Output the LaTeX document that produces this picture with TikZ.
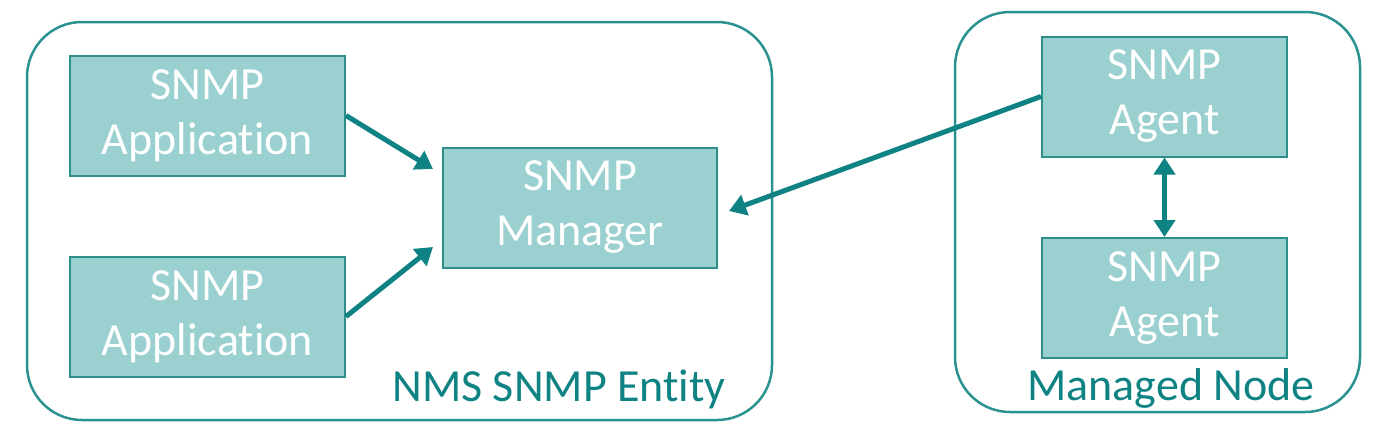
\documentclass[tikz,border=0pt]{standalone}
\usepackage{fontspec}
\setmainfont[Ligatures=NoCommon]{Carlito}
\usetikzlibrary{arrows.meta}
\definecolor{boxfill}{HTML}{9AD0CF}
\definecolor{boxline}{HTML}{2E8E8C}
\definecolor{teal1}{HTML}{0F8383}
\definecolor{outer}{HTML}{2A9291}
\tikzset{
  sbox/.style={draw=boxline, line width=2pt, fill=boxfill, minimum width=275pt, minimum height=120pt, inner sep=0pt,
    text=white, align=center, font=\fontsize{46}{55}\selectfont},
  abox/.style={sbox, minimum width=245pt},
  frame/.style={draw=outer, line width=2.5pt, rounded corners=55pt},
  conn/.style={draw=teal1, line width=5pt, -{Triangle[length=17pt,width=21pt]}},
  lbl/.style={text=teal1, font=\fontsize{46}{50}\selectfont, inner sep=0pt, anchor=base}
}
\begin{document}
\begin{tikzpicture}[x=1pt,y=-1pt]
\useasboundingbox (0,0) rectangle (1390,437);
\draw[frame] (27,22) rectangle (772,420);
\draw[frame] (955,12) rectangle (1360,412);
\node[sbox] (app1) at (207.5,115.5) {SNMP\\Application};
\node[sbox] (app2) at (207.5,316.5) {SNMP\\Application};
\node[sbox, minimum width=274pt] (mgr) at (580,207.5) {SNMP\\Manager};
\node[abox] (ag1) at (1164.5,96.5) {SNMP\\Agent};
\node[abox] (ag2) at (1164.5,298) {SNMP\\Agent};
\node[lbl] (nms) at (559,401) {NMS SNMP Entity};
\node[lbl] (mn) at (1171,400) {Managed Node};
\coordinate (t1) at (433,169);
\coordinate (t2) at (433,247);
\coordinate (t3) at (729,211);
\draw[conn] (app1.east) -- (t1);
\draw[conn] (app2.east) -- (t2);
\draw[conn] (ag1.west) -- (t3);
\draw[conn, {Triangle[length=17pt,width=21pt]}-{Triangle[length=17pt,width=21pt]}] (ag1.south) -- (ag2.north);
\end{tikzpicture}
\end{document}
